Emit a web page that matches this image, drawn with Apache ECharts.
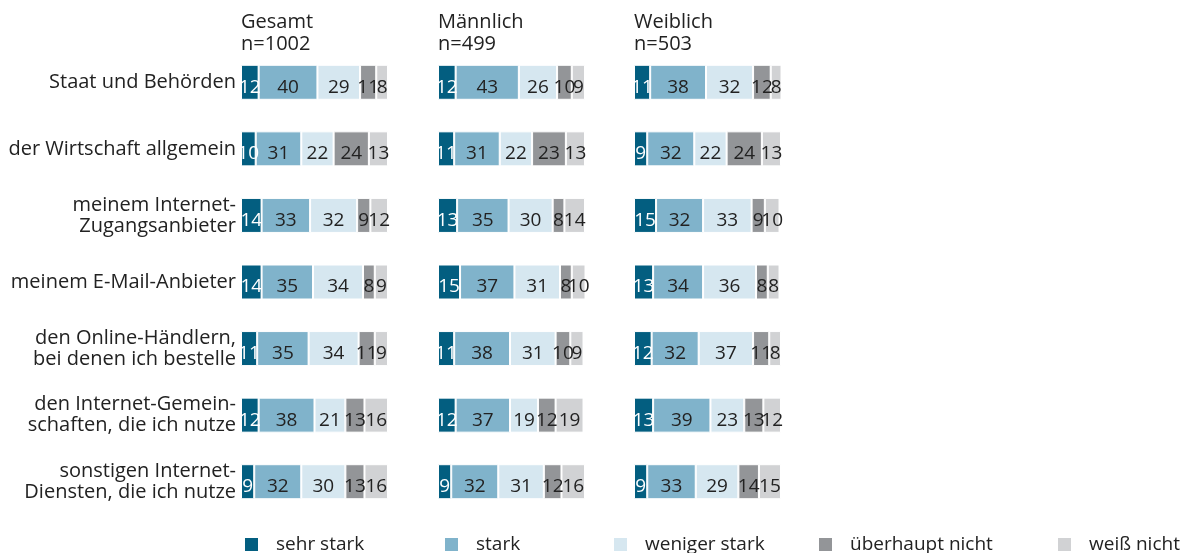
<!DOCTYPE html>
<html>
<head>
<meta charset="utf-8">
<script src="https://cdn.jsdelivr.net/npm/echarts@6/dist/echarts.min.js"></script>
<style>
    html, body { margin: 0; padding: 0; background: #fff; }
    #chartCont { width: 1184px; height: 553px; }
</style>
</head>
<body>
<div id="chartCont"></div>
<script>
var categories = [
    'Staat und Behörden',
    'der Wirtschaft allgemein',
    'meinem Internet-\nZugangsanbieter',
    'meinem E-Mail-Anbieter',
    'den Online-Händlern,\nbei denen ich bestelle',
    'den Internet-Gemein-\nschaften, die ich nutze',
    'sonstigen Internet-\nDiensten, die ich nutze'
];
var levels = ['sehr stark', 'stark', 'weniger stark', 'überhaupt nicht', 'weiß nicht'];
var groups = ['Gesamt\nn=1002', 'Männlich\nn=499', 'Weiblich\nn=503'];

// Gesamt
var gesSehr = [12, 10, 14, 14, 11, 12, 9];
var gesStark = [40, 31, 33, 35, 35, 38, 32];
var gesWeniger = [29, 22, 32, 34, 34, 21, 30];
var gesNicht = [11, 24, 9, 8, 11, 13, 13];
var gesWeiss = [8, 13, 12, 9, 9, 16, 16];
// Männlich
var manSehr = [12, 11, 13, 15, 11, 12, 9];
var manStark = [43, 31, 35, 37, 38, 37, 32];
var manWeniger = [26, 22, 30, 31, 31, 19, 31];
var manNicht = [10, 23, 8, 8, 10, 12, 12];
var manWeiss = [9, 13, 14, 10, 9, 19, 16];
// Weiblich
var weiSehr = [11, 9, 15, 13, 12, 13, 9];
var weiStark = [38, 32, 32, 34, 32, 39, 33];
var weiWeniger = [32, 22, 33, 36, 37, 23, 29];
var weiNicht = [12, 24, 9, 8, 11, 13, 14];
var weiWeiss = [8, 13, 10, 8, 8, 12, 15];

var groupData = [
    [gesSehr, gesStark, gesWeniger, gesNicht, gesWeiss],
    [manSehr, manStark, manWeniger, manNicht, manWeiss],
    [weiSehr, weiStark, weiWeniger, weiNicht, weiWeiss]
];

var colors = ['#035e80', '#80b3cb', '#d6e7f0', '#939598', '#d1d2d4'];
var font = 'Open Sans';

window.onload = function() {
    setBars();
};

function setBars() {
    var ec = echarts.init(document.getElementById('chartCont'));
    var lefts = [241, 438, 634];
    var grids = [], xAxes = [], yAxes = [], titles = [], series = [];

    lefts.forEach(function(l, g) {
        grids.push({ left: l, width: 147, top: 49, height: 466 });
        xAxes.push({ gridIndex: g, type: 'value', min: 0, max: 100, show: false });
        yAxes.push({
            gridIndex: g,
            type: 'category',
            inverse: true,
            data: categories,
            axisLine: { show: false },
            axisTick: { show: false },
            axisLabel: {
                show: g === 0,
                margin: 5,
                color: '#222',
                fontSize: 20,
                lineHeight: 21,
                fontFamily: font,
                align: 'right'
            }
        });
        titles.push({
            text: groups[g],
            left: l,
            top: 11,
            padding: 0,
            textStyle: {
                color: '#222',
                fontSize: 20,
                lineHeight: 22,
                fontWeight: 'normal',
                fontFamily: font
            }
        });
        levels.forEach(function(name, k) {
            series.push({
                name: name,
                type: 'bar',
                stack: 'g' + g,
                xAxisIndex: g,
                yAxisIndex: g,
                barWidth: 35,
                itemStyle: {
                    color: colors[k],
                    borderColor: '#fff',
                    borderWidth: 1
                },
                label: {
                    show: true,
                    position: 'inside',
                    offset: [0, 5],
                    color: k === 0 ? '#fff' : '#222',
                    fontSize: 19,
                    fontFamily: font
                },
                data: groupData[g][k]
            });
        });
    });

    var legendLefts = [243, 443, 612, 817, 1056];
    var legends = levels.map(function(name, k) {
        return {
            data: [name],
            left: legendLefts[k],
            top: 535,
            padding: 0,
            itemWidth: 15,
            itemHeight: 15,
            itemGap: 0,
            icon: 'rect',
            selectedMode: false,
            textStyle: {
                color: '#222',
                fontSize: 19,
                fontFamily: font,
                padding: [0, 0, 0, 12]
            }
        };
    });

    ec.setOption({
        animation: false,
        title: titles,
        legend: legends,
        grid: grids,
        xAxis: xAxes,
        yAxis: yAxes,
        series: series
    });
}
</script>
</body>
</html>
